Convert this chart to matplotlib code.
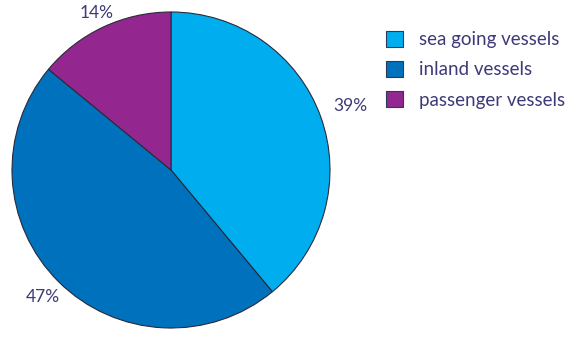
import numpy as np
import matplotlib
matplotlib.use("Agg")
import matplotlib.pyplot as plt

# Share of vessels by type (%)
categories = ["sea going vessels", "inland vessels", "passenger vessels"]
shares = [39, 47, 14]
colors = ["#00AEEF", "#0071BC", "#93278F"]

TEXT_COLOR = "#3D3A78"
plt.rcParams["font.family"] = ["Lato", "DejaVu Sans"]

fig = plt.figure(figsize=(5.78, 3.49), dpi=100)
ax = fig.add_axes([12 / 578, 21 / 349, 318 / 578, 316 / 349])

wedges, _ = ax.pie(
    shares,
    colors=colors,
    startangle=90,
    counterclock=False,
    radius=1.0,
    wedgeprops=dict(edgecolor="#2a2a3a", linewidth=0.8),
)
ax.set_xlim(-1.0, 1.0)
ax.set_ylim(-1.0, 1.0)
ax.set_aspect("auto")
ax.axis("off")

# percent labels just outside each wedge
label_dist = [1.2, 1.14, 1.1]
for w, val, d in zip(wedges, shares, label_dist):
    mid = np.deg2rad((w.theta1 + w.theta2) / 2)
    ax.text(d * np.cos(mid), d * np.sin(mid), f"{val}%",
            ha="center", va="center", fontsize=12.5, color=TEXT_COLOR,
            clip_on=False)

handles = [plt.Rectangle((0, 0), 1, 1, facecolor=c, edgecolor="#2a3a5a", linewidth=0.8)
           for c in colors]
fig.legend(
    handles, categories,
    loc="upper left",
    bbox_to_anchor=(386 / 578, 1 - 31 / 349),
    frameon=False,
    borderaxespad=0,
    borderpad=0,
    fontsize=13.5,
    labelcolor=TEXT_COLOR,
    handlelength=0.92,
    handleheight=0.92,
    handletextpad=0.85,
    labelspacing=0.68,
)

fig.savefig("out.png", dpi=100)
